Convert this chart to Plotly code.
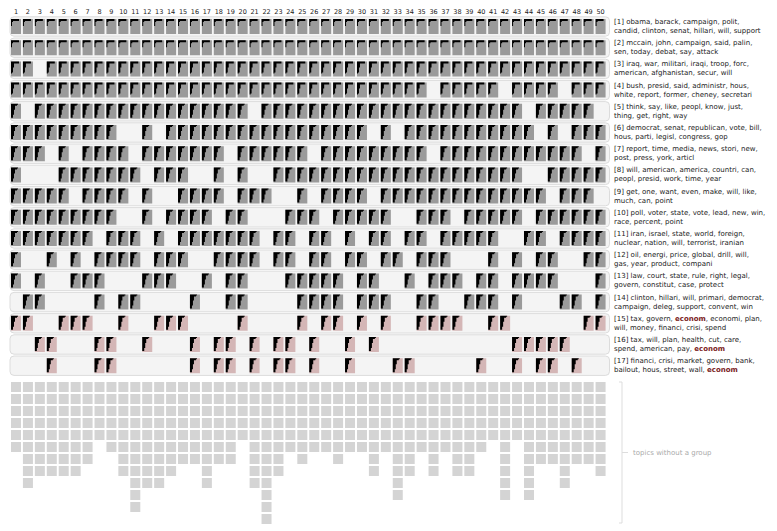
import plotly.graph_objects as go

# time slices along the top
SLICES = list(range(1, 51))

# one string per topic group, one char per slice (1 = the group has a topic in that slice)
PRESENCE = [
  '11111 11111 11111 11111 11111 11111 11111 11111 11111 11111',
  '11111 11111 11111 11111 11111 11111 11111 11111 11111 11111',
  '11011 11111 11111 11111 11111 11111 11111 11111 11111 11111',
  '11111 11111 11111 11111 11111 11111 11111 01111 10111 10111',
  '10111 11111 11111 11111 01111 11111 11111 11111 11101 11110',
  '11111 11110 01011 11111 11111 11111 01011 11111 11110 10111',
  '11101 01111 01111 11101 11111 01111 11111 01111 11111 11101',
  '10001 11111 10111 00101 00111 11111 11111 11111 11100 11111',
  '11111 01111 01001 11101 11001 01111 01111 11111 11111 01110',
  '11111 11110 01011 11011 00011 10111 11001 11011 11101 11111',
  '11111 11011 10101 11111 10110 11010 11011 01111 10011 01111',
  '10010 10111 10111 00111 10110 11011 01101 11000 10101 10011',
  '10100 11100 01110 01011 00011 11101 10010 11101 10111 10001',
  '01100 00101 10000 10011 00001 11101 11001 10011 10100 01101',
  '11001 11001 00111 00001 00001 01101 01001 11100 11000 00011',
  '00110 00110 01000 10110 10110 10010 10000 00000 00111 11000',
  '00010 00110 00000 10110 10110 10010 00110 00001 00101 10100',
]

EC = "<b><span style='color:#7a1a1a'>econom</span></b>"
LABELS = [
  '[1] obama, barack, campaign, polit,<br>candid, clinton, senat, hillari, will, support',
  '[2] mccain, john, campaign, said, palin,<br>sen, today, debat, say, attack',
  '[3] iraq, war, militari, iraqi, troop, forc,<br>american, afghanistan, secur, will',
  '[4] bush, presid, said, administr, hous,<br>white, report, former, cheney, secretari',
  '[5] think, say, like, peopl, know, just,<br>thing, get, right, way',
  '[6] democrat, senat, republican, vote, bill,<br>hous, parti, legisl, congress, gop',
  '[7] report, time, media, news, stori, new,<br>post, press, york, articl',
  '[8] will, american, america, countri, can,<br>peopl, presid, work, time, year',
  '[9] get, one, want, even, make, will, like,<br>much, can, point',
  '[10] poll, voter, state, vote, lead, new, win,<br>race, percent, point',
  '[11] iran, israel, state, world, foreign,<br>nuclear, nation, will, terrorist, iranian',
  '[12] oil, energi, price, global, drill, will,<br>gas, year, product, compani',
  '[13] law, court, state, rule, right, legal,<br>govern, constitut, case, protect',
  '[14] clinton, hillari, will, primari, democrat,<br>campaign, deleg, support, convent, win',
  f'[15] tax, govern, {EC}, economi, plan,<br>will, money, financi, crisi, spend',
  f'[16] tax, will, plan, health, cut, care,<br>spend, american, pay, {EC}',
  f'[17] financi, crisi, market, govern, bank,<br>bailout, hous, street, wall, {EC}',
]

# topics in each slice that belong to no group
UNGROUPED = [6, 9, 8, 8, 8, 8, 7, 5, 6, 8, 11, 9, 9, 8, 7, 7, 9, 7, 7, 5,
             9, 12, 8, 6, 7, 6, 6, 7, 6, 6, 8, 6, 10, 8, 6, 8, 6, 8, 8, 6,
             5, 10, 5, 10, 7, 7, 9, 7, 7, 8]

# little black word-profile glyph drawn in each cell (px width per px row)
GLYPHS = {
  'thin': [8, 8, 2, 1, 1, 1, 1],
  'mid': [8, 8, 3, 3, 3, 3, 2, 2, 2, 2, 2, 1],
  'bold': [7, 6, 4, 4, 4, 4, 3, 3, 3, 3, 3, 2, 2, 2],
}
GLYPH_OF = ['thin', 'thin', 'mid', 'mid'] + ['bold'] * 13
ECON_GROUPS = [15, 16, 17]

W, H = 777, 531
OFF = 8               # the page body puts the figure 8px in from the corner
FONT = 'DejaVu Sans'
X0, XS = 16, 11.93    # screen px centre of slice 1, px per slice
Y0, YS = 26.5, 21.2   # screen px centre of group 1, px per group
S0, SS = 387, 12      # screen px centre of first ungrouped square, px per square

def xu(p): return p / XS
def yu(p): return p / YS
def su(p): return p / SS

CELL_W, CELL_H, SQ = 10, 15, 10

grey_x, grey_y, pink_x, pink_y, blk_x, blk_y = [], [], [], [], [], []
for g, row in enumerate(PRESENCE):
  r = g + 1
  prof = GLYPHS[GLYPH_OF[g]]
  for c, on in zip(SLICES, row.replace(' ', '')):
    if on != '1':
      continue
    x0, x1 = c - xu(CELL_W / 2), c + xu(CELL_W / 2)
    y0, y1 = r - yu(CELL_H / 2), r + yu(CELL_H / 2)
    tx, ty = (pink_x, pink_y) if r in ECON_GROUPS else (grey_x, grey_y)
    tx += [x0, x1, x1, x0, x0, None]
    ty += [y0, y0, y1, y1, y0, None]
    px, py = [x0], [y0]
    for i, w in enumerate(prof):
      px += [x0 + xu(w), x0 + xu(w)]
      py += [y0 + yu(i), y0 + yu(i + 1)]
    px += [x0, x0, None]
    py += [y0 + yu(len(prof)), y0, None]
    blk_x += px
    blk_y += py

sq_x, sq_y = [], []
for c, n in zip(SLICES, UNGROUPED):
  for j in range(n):
    xa, xb = c - xu(SQ / 2), c + xu(SQ / 2)
    ya, yb = j - su(SQ / 2), j + su(SQ / 2)
    sq_x += [xa, xb, xb, xa, xa, None]
    sq_y += [ya, ya, yb, yb, ya, None]

fig = go.Figure()
def poly(xs, ys, color, yaxis='y'):
  fig.add_trace(go.Scatter(x=xs, y=ys, mode='lines', fill='toself', fillcolor=color,
                           line=dict(width=0, color=color), hoverinfo='skip', yaxis=yaxis))

poly(grey_x, grey_y, '#9a9a9a')
poly(pink_x, pink_y, '#d4b6b6')
poly(blk_x, blk_y, '#000000')
poly(sq_x, sq_y, '#d4d4d4', 'y2')

# slice numbers (kept just below the top edge of the page)
fig.add_trace(go.Scatter(x=SLICES, y=[1 + yu(12 - Y0)] * len(SLICES), mode='text',
                         text=[str(s) for s in SLICES], hoverinfo='skip', cliponaxis=False,
                         textfont=dict(family=FONT, size=6.5, color='#222')))

def rounded(xa, xb, ya, yb, rx, ry):
  return (f'M {xa+rx},{ya} L {xb-rx},{ya} Q {xb},{ya} {xb},{ya+ry} L {xb},{yb-ry} '
          f'Q {xb},{yb} {xb-rx},{yb} L {xa+rx},{yb} Q {xa},{yb} {xa},{yb-ry} '
          f'L {xa},{ya+ry} Q {xa},{ya} {xa+rx},{ya} Z')

shapes = []
pxa, pxb = 1 + xu(10 - X0), 1 + xu(609.5 - X0)
for g in range(len(PRESENCE)):
  r = g + 1
  shapes.append(dict(type='path', xref='x', yref='y', layer='below',
                     path=rounded(pxa, pxb, r - yu(9.7), r + yu(9.7), xu(4), yu(4)),
                     fillcolor='#f4f4f4', line=dict(color='#dcdcdc', width=1)))

# bracket for the ungrouped topics
bx = 1 + xu(622 - X0)
top, bot, mid = su(382 - S0), su(523 - S0), su(452.5 - S0)
shapes.append(dict(type='path', xref='x', yref='y2',
                   path=f'M {bx - xu(3)},{top} L {bx},{top} L {bx},{bot} L {bx - xu(3)},{bot}',
                   line=dict(color='#dddddd', width=1)))
shapes.append(dict(type='line', xref='x', yref='y2', x0=bx, x1=bx + xu(6), y0=mid, y1=mid,
                   line=dict(color='#dddddd', width=1)))

annotations = []
for g, lab in enumerate(LABELS):
  annotations.append(dict(x=1 + xu(612 - X0), y=g + 1, xref='x', yref='y', text=lab,
                          xanchor='left', yanchor='middle', align='left', showarrow=False,
                          font=dict(family=FONT, size=7.0, color='#222')))
annotations.append(dict(x=1 + xu(631 - X0), y=mid, xref='x', yref='y2',
                        text='topics without a group', xanchor='left', yanchor='middle',
                        showarrow=False, font=dict(family=FONT, size=7.0, color='#aaaaaa')))

# axis ranges expressed in screen pixels, shifted by the page offset
fig.update_layout(
  width=W, height=H, margin=dict(l=0, r=0, t=0, b=0),
  paper_bgcolor='white', plot_bgcolor='white', showlegend=False,
  xaxis=dict(range=[1 + xu(OFF - X0), 1 + xu(OFF + W - X0)], visible=False, fixedrange=True),
  yaxis=dict(range=[1 + yu(OFF + H - Y0), 1 + yu(OFF - Y0)], visible=False, fixedrange=True),
  yaxis2=dict(range=[su(OFF + H - S0), su(OFF - S0)], overlaying='y', visible=False,
              fixedrange=True),
  shapes=shapes, annotations=annotations,
)

fig.write_html('out.html')
